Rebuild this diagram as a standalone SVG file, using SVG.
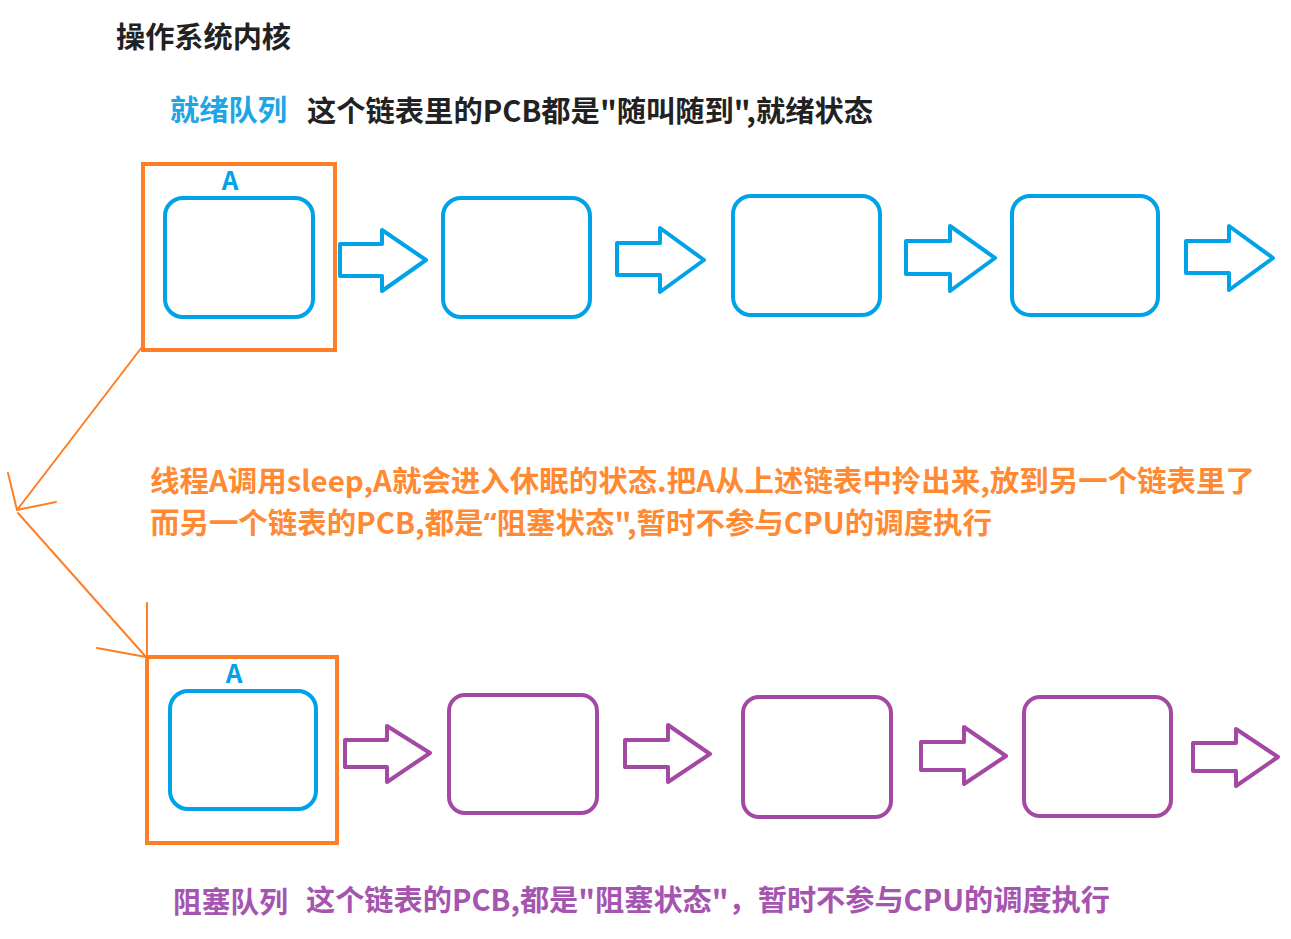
<svg xmlns="http://www.w3.org/2000/svg" width="1291" height="939" viewBox="0 0 1291 939">
<style>
text{font-family:"Noto Sans CJK SC","Noto Sans",sans-serif;font-weight:bold;font-size:29px}
.q{font-family:"Noto Sans",sans-serif}
.blk{fill:#222}
.blu{fill:#1ea5e6}
.org{fill:#ff8a33}
.pur{fill:#a555b0}
.lbl{fill:#00a2e8;font-size:26px;text-anchor:middle}
.bbox{fill:none;stroke:#00a2e8;stroke-width:4}
.pbox{fill:none;stroke:#a349a4;stroke-width:4}
.obox{fill:none;stroke:#ff7f27;stroke-width:4}
.barr{fill:none;stroke:#00a2e8;stroke-width:4;stroke-linejoin:round}
.parr{fill:none;stroke:#a349a4;stroke-width:4;stroke-linejoin:round}
.oline{fill:none;stroke:#ff7f27;stroke-width:2;stroke-linecap:round}
</style>
<rect width="1291" height="939" fill="#fff"/>
<text class="blk" x="116" y="48" textLength="175" lengthAdjust="spacingAndGlyphs">操作系统内核</text>
<text class="blu" x="170" y="121" textLength="117" lengthAdjust="spacingAndGlyphs">就绪队列</text>
<text class="blk" x="307" y="122" textLength="566" lengthAdjust="spacingAndGlyphs">这个链表里的PCB都是"随叫随到",就绪状态</text>

<g id="readyA">
<rect class="obox" x="143" y="164" width="192" height="186"/>
<text class="lbl" x="230" y="190">A</text>
<rect class="bbox" x="165" y="198" width="148" height="119" rx="18"/>
</g>
<g id="ready2"><rect class="bbox" x="443" y="198" width="147" height="119" rx="18"/></g>
<g id="ready3"><rect class="bbox" x="733" y="196" width="147" height="119" rx="18"/></g>
<g id="ready4"><rect class="bbox" x="1012" y="196" width="146" height="119" rx="18"/></g>

<text class="org" x="150" y="492" textLength="1105" lengthAdjust="spacingAndGlyphs">线程A调用sleep,A就会进入休眠的状态.把A从上述链表中拎出来,放到另一个链表里了</text>
<text class="org" x="150" y="534" textLength="842" lengthAdjust="spacingAndGlyphs">而另一个链表的PCB,都是<tspan class="q">“</tspan>阻塞状态",暂时不参与CPU的调度执行</text>

<g id="blockedA">
<rect class="obox" x="147" y="657" width="190" height="186"/>
<text class="lbl" x="234" y="683">A</text>
<rect class="bbox" x="170" y="691" width="146" height="118" rx="18"/>
</g>
<g id="blocked2"><rect class="pbox" x="449" y="695" width="148" height="118" rx="16"/></g>
<g id="blocked3"><rect class="pbox" x="743" y="697" width="148" height="120" rx="16"/></g>
<g id="blocked4"><rect class="pbox" x="1024" y="697" width="147" height="119" rx="16"/></g>

<text class="pur" x="173" y="913" textLength="115" lengthAdjust="spacingAndGlyphs">阻塞队列</text>
<text class="pur" x="306" y="911" textLength="804" lengthAdjust="spacingAndGlyphs">这个链表的PCB,都是"阻塞状态"，暂时不参与CPU的调度执行</text>

<g id="connectors">
<polygon class="barr" points="340,244 382,244 382,230 426,260 382,291 382,276 340,276"/>
<polygon class="barr" points="617,243 660,243 660,228 704,260 660,292 660,275 617,275"/>
<polygon class="barr" points="906,241 950,241 950,226 995,258 950,291 950,274 906,274"/>
<polygon class="barr" points="1186,241 1229,241 1229,226 1273,258 1229,290 1229,273 1186,273"/>
<polygon class="parr" points="345,740 387,740 387,726 430,753 387,782 387,767 345,767"/>
<polygon class="parr" points="625,740 668,740 668,725 710,754 668,782 668,767 625,767"/>
<polygon class="parr" points="921,742 964,742 964,727 1006,756 964,784 964,770 921,770"/>
<polygon class="parr" points="1193,743 1236,743 1236,729 1278,757 1236,786 1236,771 1193,771"/>
<path class="oline" d="M142,347 L17,510 M17,510 L8,473 M17,510 L56,502"/>
<path class="oline" d="M18,513 L146,657 M147,603 L147,657 M97,648 L146,657"/>
</g>
</svg>
